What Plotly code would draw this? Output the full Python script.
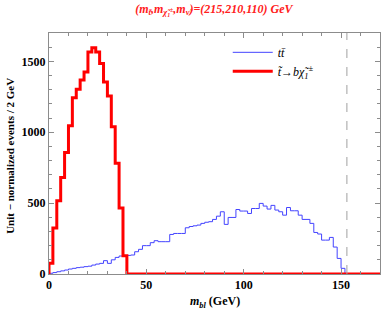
import plotly.graph_objects as go

# bin edges are 2 GeV wide
bin_width = 2
signal_values = [75, 324, 516, 681, 857, 1045, 1244, 1303, 1369, 1425,
                 1566, 1596, 1566, 1484, 1354, 1256, 1038, 782, 465, 129]
ttbar_values = [5, 10, 16, 22, 28, 35, 40, 45, 48, 52,
                55, 63, 70, 75, 94, 75, 100, 117, 127, 129,
                131, 134, 157, 174, 200, 200, 221, 235, 228, 228,
                228, 279, 286, 286, 286, 326, 335, 340, 345, 357,
                365, 369, 385, 408, 439, 350, 399, 399, 455, 444,
                444, 427, 462, 462, 498, 479, 458, 484, 451, 439,
                415, 469, 446, 446, 415, 385, 385, 357, 293, 282,
                239, 239, 258, 190, 110, 40]
x_max = 170
y_max = 1700
cut_line = 153
x_ticks = [0, 50, 100, 150]
y_ticks = [0, 500, 1000, 1500]

def step_xy(values, tail_end):
    xs = [0]
    ys = [0]
    for i, v in enumerate(values):
        xs.append(i * bin_width)
        ys.append(v)
    n = len(values) * bin_width
    xs += [n, tail_end]
    ys += [0, 0]
    return xs, ys

bx, by = step_xy(ttbar_values, len(ttbar_values) * bin_width)
rx, ry = step_xy(signal_values, x_max)

serif = "Liberation Serif"
axis_col = "#8c8c8c"

fig = go.Figure()
fig.add_trace(go.Scatter(x=bx, y=by, mode="lines", line_shape="hv",
                         line=dict(color="#4444ff", width=1),
                         name="<i>tt̄</i>"))
fig.add_trace(go.Scatter(x=rx, y=ry, mode="lines", line_shape="hv",
                         line=dict(color="#ff0000", width=3),
                         name="<i>t̃→bχ̃<sub>1</sub><sup>±</sup></i>"))

fig.add_shape(type="line", x0=cut_line, x1=cut_line, y0=0, y1=1,
              xref="x", yref="paper",
              line=dict(color="#a0a0a0", width=1, dash="dash"))

fig.add_annotation(text="<b><i>m<sub>bl</sub></i> (GeV)</b>", xref="paper", yref="paper",
                   x=0.5, y=-0.118, xanchor="center", yanchor="middle", showarrow=False,
                   font=dict(family=serif, size=12, color="black"))
fig.add_annotation(text="<b>Unit − normalized events / 2 GeV</b>", xref="paper", yref="paper",
                   x=-0.118, y=0.49, xanchor="center", yanchor="middle", showarrow=False,
                   textangle=-90, font=dict(family=serif, size=11, color="black"))

fig.update_layout(
    width=382, height=313,
    margin=dict(l=49, r=2, t=33, b=39, autoexpand=False),
    paper_bgcolor="white", plot_bgcolor="white",
    font=dict(family=serif, color="black", size=12),
    title=dict(
        text="<b><i>(m<sub>t̃</sub>,m<sub>χ̃<sub>1</sub><sup>±</sup></sub>,m<sub>ν̃</sub>)=(215,210,110) GeV</i></b>",
        font=dict(family=serif, size=12, color="#ff2020"),
        x=0.56, xanchor="center", y=0.972, yanchor="middle"),
    showlegend=True,
    legend=dict(x=0.54, y=0.98, xanchor="left", yanchor="top",
                bgcolor="rgba(0,0,0,0)", font=dict(family=serif, size=12),
                itemwidth=40, tracegroupgap=0),
)
fig.update_xaxes(
    range=[0, x_max], tickvals=x_ticks, ticks="inside", ticklen=5,
    tickcolor=axis_col, showline=True, linecolor=axis_col, linewidth=1,
    mirror="allticks", showgrid=False, zeroline=False, automargin=False,
    tickfont=dict(family=serif, size=12, weight="bold"),
    minor=dict(dtick=10, ticks="inside", ticklen=3, tickcolor=axis_col, showgrid=False),
)
fig.update_yaxes(
    range=[0, y_max], tickvals=y_ticks, ticks="inside", ticklen=5,
    tickcolor=axis_col, showline=True, linecolor=axis_col, linewidth=1,
    mirror="allticks", showgrid=False, zeroline=False, automargin=False,
    tickfont=dict(family=serif, size=12, weight="bold"),
    minor=dict(dtick=100, ticks="inside", ticklen=3, tickcolor=axis_col, showgrid=False),
)

fig.write_html("out.html", config={"displayModeBar": False},
               post_script="document.body.style.margin='0';document.body.style.overflow='hidden';")
